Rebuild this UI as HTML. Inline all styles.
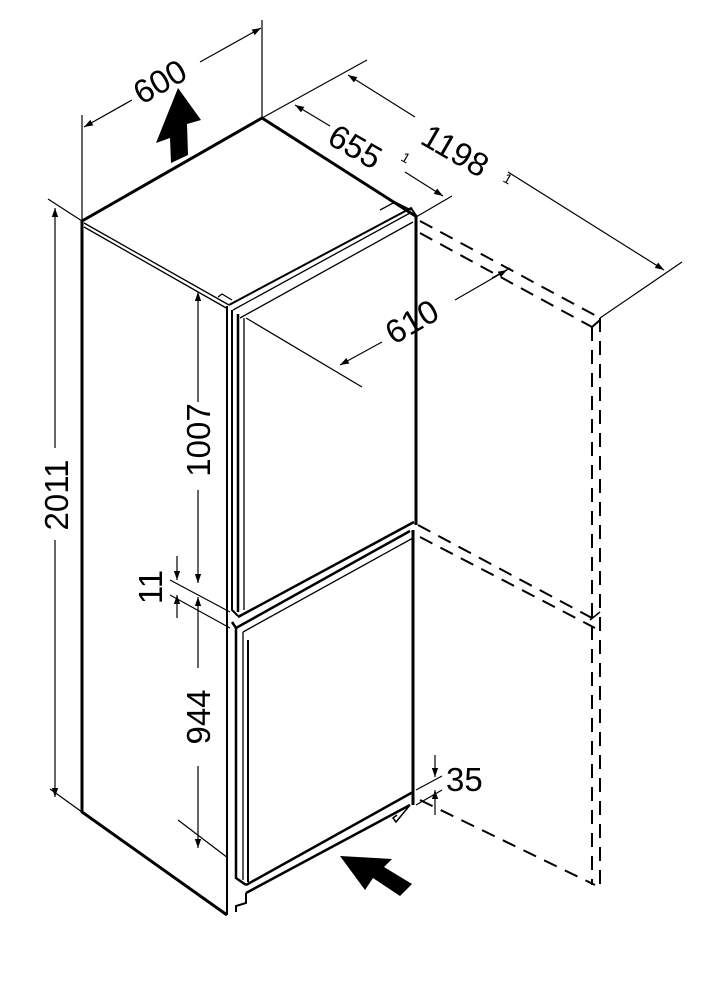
<!DOCTYPE html>
<html><head><meta charset="utf-8"><style>html,body{margin:0;padding:0;background:#fff}svg{display:block}text{font-family:"Liberation Sans",sans-serif;fill:#000}</style></head>
<body>
<svg width="711" height="999" viewBox="0 0 711 999" xmlns="http://www.w3.org/2000/svg">
<defs>
<marker id="a" viewBox="0 0 10 10" refX="10" refY="5" markerWidth="9" markerHeight="9" orient="auto-start-reverse" markerUnits="userSpaceOnUse"><path d="M0,1.5 L10,5 L0,8.5 z" fill="#000"/></marker>
</defs>
<g fill="none" stroke="#000">
<path d="M82,221 L262,118 L417,217" stroke-width="3"/>
<path d="M82,221 L82,812 L227,915" stroke-width="3"/>
<path d="M416,217 L416,525" stroke-width="3"/>
<path d="M413,530 L413,805" stroke-width="3"/>
<path d="M84,223 L229,305" stroke-width="1.3"/>
<path d="M84,227 L228,309" stroke-width="1.3"/>
<path d="M227,306 L227,915" stroke-width="2"/>
<path d="M229,305 L411,208 L417,217" stroke-width="2"/>
<path d="M233,310 L410,213" stroke-width="1.3"/>
<path d="M240,318 L413,222" stroke-width="1.3"/>
<path d="M380,210 L395,202 L411,210" stroke-width="1.3"/>
<path d="M218,297 L222,294 L232,300" stroke-width="1.3"/>
<path d="M232,310 L232,610 L238,616" stroke-width="2"/>
<path d="M238,314 L238,612" stroke-width="2.5"/>
<path d="M244,318 L244,610" stroke-width="1.3"/>
<path d="M238,617 L414,522" stroke-width="2.5"/>
<path d="M232,622 L236,628 L410,531" stroke-width="2.5"/>
<path d="M243,632 L413,538" stroke-width="1.3"/>
<path d="M236,628 L236,878 L246,885" stroke-width="2.5"/>
<path d="M243,632 L243,880" stroke-width="1.3"/>
<path d="M248,640 L248,882" stroke-width="2"/>
<path d="M246,885 L413,792" stroke-width="2.5"/>
<path d="M246,893 L410,805" stroke-width="2.5"/>
<path d="M246,893 L246,903 L236,906 L236,912" stroke-width="2"/>
<path d="M397,815 L393,818 L396,822 L410,805" stroke-width="1.5"/>
<g stroke-width="2" stroke-dasharray="14,9">
<path d="M420,221 L600,318"/><path d="M420,233 L592,327"/>
<path d="M600,318 L600,885"/><path d="M592,327 L592,885"/>
<path d="M418,525 L592,618"/><path d="M420,537 L595,628"/>
<path d="M420,800 L595,885"/>
</g>
<path d="M592,327 L600,320" stroke-width="2"/>
<path d="M590,620 L600,612" stroke-width="1.5"/>
<g stroke-width="1.2">
<path d="M82,220 L82,115"/><path d="M262,118 L262,20"/>
<path d="M84,127 L132,100" marker-start="url(#a)"/><path d="M200,62 L261,28" marker-end="url(#a)"/>
<path d="M262,118 L367,60"/><path d="M416,217 L452,196"/>
<path d="M295,105 L330,126" marker-start="url(#a)"/><path d="M405,172 L443,196" marker-end="url(#a)"/>
<path d="M348,75 L415,117" marker-start="url(#a)"/><path d="M508,172 L664,270" marker-end="url(#a)"/>
<path d="M600,318 L682,262"/>
<path d="M246,318 L362,387"/><path d="M510,268 L492,278"/>
<path d="M340,365 L382,342" marker-start="url(#a)"/><path d="M455,300 L507,270" marker-end="url(#a)"/>
<path d="M48,199 L82,221"/><path d="M50,789 L82,812"/>
<path d="M55,208 L55,448" marker-start="url(#a)"/><path d="M55,540 L55,797" marker-end="url(#a)"/>
<path d="M198,292 L198,402" marker-start="url(#a)"/><path d="M198,490 L198,583" marker-end="url(#a)"/>
<path d="M170,580 L230,612"/><path d="M170,595 L230,628"/>
<path d="M177,556 L177,580" marker-end="url(#a)"/><path d="M177,595 L177,618" marker-start="url(#a)"/>
<path d="M198,597 L198,668" marker-start="url(#a)"/><path d="M198,766 L198,848" marker-end="url(#a)"/>
<path d="M178,820 L228,858"/>
<path d="M416,790 L442,776"/><path d="M416,805 L442,790"/>
<path d="M435,755 L435,777" marker-end="url(#a)"/><path d="M435,790 L435,815" marker-start="url(#a)"/>
</g>
</g>
<path d="M178,88 L201,120 L187,124 L188,155 L171,163 L170,138 L156,143 Z" fill="#000"/>
<path d="M340,856 L392,859 L384,867 L412,884 L400,896 L373,878 L365,890 Z" fill="#000"/>
<text x="160" y="93" font-size="33" transform="rotate(-30 160 82)" text-anchor="middle">600</text>
<text x="355" y="158" font-size="33" transform="rotate(30 355 147)" text-anchor="middle">655</text>
<text x="400" y="160" font-size="14" transform="rotate(30 400 160)">1</text>
<text x="455" y="162" font-size="33" transform="rotate(30 455 151)" text-anchor="middle">1198</text>
<text x="502" y="181" font-size="14" transform="rotate(30 502 181)">1</text>
<text x="412" y="333" font-size="33" transform="rotate(-30 412 322)" text-anchor="middle">610</text>
<text x="56" y="507" font-size="33" transform="rotate(-90 56 495)" text-anchor="middle">2011</text>
<text x="198" y="452" font-size="33" transform="rotate(-90 198 440)" text-anchor="middle">1007</text>
<text x="150" y="599" font-size="33" transform="rotate(-90 150 587)" text-anchor="middle">11</text>
<text x="198" y="729" font-size="33" transform="rotate(-90 198 717)" text-anchor="middle">944</text>
<text x="446" y="791" font-size="33">35</text>
</svg>
</body></html>
